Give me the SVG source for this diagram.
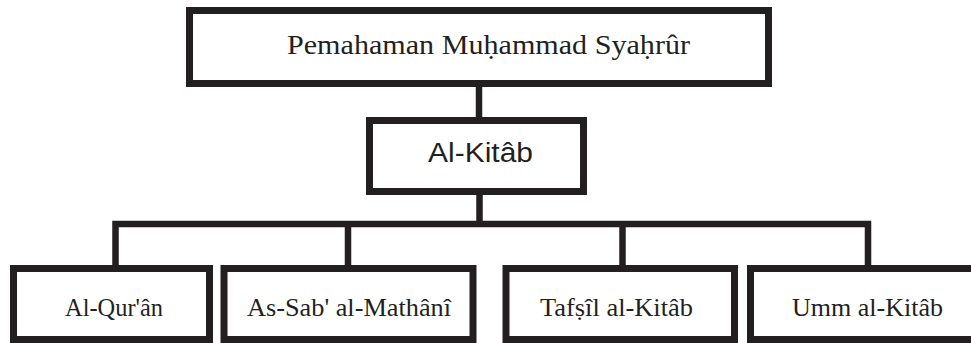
<svg xmlns="http://www.w3.org/2000/svg" width="971" height="343" viewBox="0 0 971 343">
<style>
.box{fill:#fff;stroke:#231f20;stroke-width:7}
.conn{fill:none;stroke:#231f20;stroke-width:6.5;stroke-linejoin:miter}
.serif{font-family:"Liberation Serif","Times New Roman",serif;fill:#231f20}
.sans{font-family:"Liberation Sans",Arial,sans-serif;fill:#231f20}
</style>
<rect width="971" height="343" fill="#fff"/>
<g id="connectors">
<line class="conn" x1="479" y1="86" x2="479" y2="118"/>
<line class="conn" x1="479.5" y1="194" x2="479.5" y2="224"/>
<path class="conn" d="M115.5,266 V224 H868 V266"/>
<line class="conn" x1="348" y1="224" x2="348" y2="266"/>
<line class="conn" x1="622.5" y1="224" x2="622.5" y2="266"/>
</g>
<g id="node-root">
<rect class="box" x="189.5" y="10.5" width="579" height="73"/>
<text class="serif" x="287" y="53.5" font-size="27" textLength="403" lengthAdjust="spacingAndGlyphs">Pemahaman Muḥammad Syaḥrûr</text>
</g>
<g id="node-alkitab">
<rect class="box" x="369.5" y="120.5" width="214" height="71"/>
<text class="sans" x="428" y="162" font-size="27" textLength="105" lengthAdjust="spacingAndGlyphs">Al-Kitâb</text>
</g>
<g id="node-alquran">
<rect class="box" x="13.5" y="268.5" width="196" height="71"/>
<text class="serif" x="65" y="315.5" font-size="26" textLength="98" lengthAdjust="spacingAndGlyphs">Al-Qur'ân</text>
</g>
<g id="node-assab">
<rect class="box" x="224" y="268.5" width="249" height="71"/>
<text class="serif" x="247" y="315.5" font-size="26" textLength="204" lengthAdjust="spacingAndGlyphs">As-Sab' al-Mathânî</text>
</g>
<g id="node-tafsil">
<rect class="box" x="506" y="268.5" width="228.5" height="71"/>
<text class="serif" x="540" y="315.5" font-size="26" textLength="153" lengthAdjust="spacingAndGlyphs">Tafṣîl al-Kitâb</text>
</g>
<g id="node-umm">
<rect class="box" x="750.5" y="268.5" width="260" height="71"/>
<text class="serif" x="792" y="315.5" font-size="26" textLength="151" lengthAdjust="spacingAndGlyphs">Umm al-Kitâb</text>
</g>
</svg>
